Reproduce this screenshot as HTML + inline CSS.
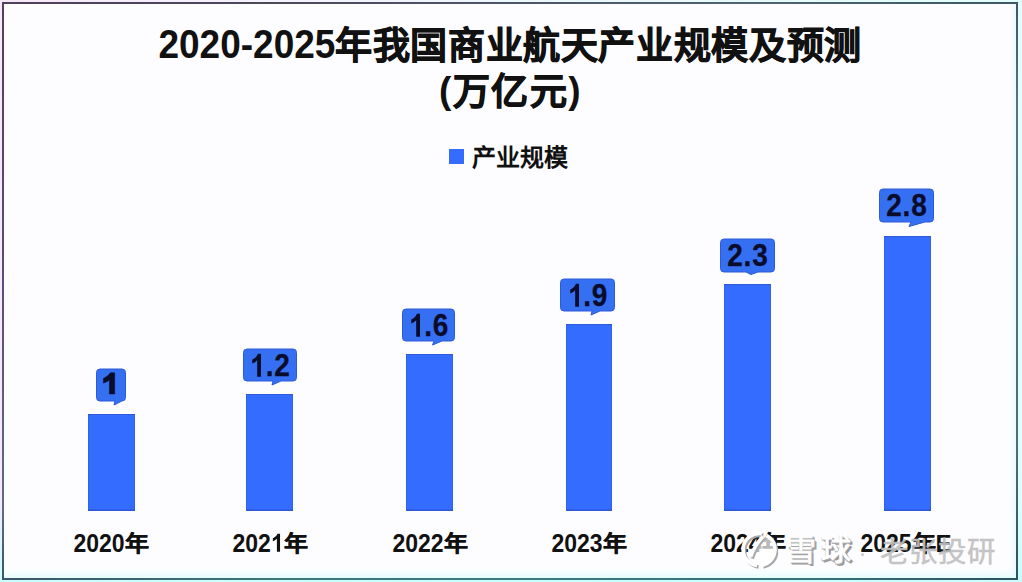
<!DOCTYPE html>
<html lang="zh-CN">
<head>
<meta charset="utf-8">
<style>
html,body{margin:0;padding:0;}
body{width:1022px;height:582px;position:relative;overflow:hidden;
  background:linear-gradient(180deg,rgba(200,255,255,0) 85%,#c8ffff 100%),linear-gradient(90deg,#f6e8fa 0%,#f6f2ff 25%,#e6faff 74%,#e2fffc 100%);
  font-family:"Liberation Sans",sans-serif;}
.frame{position:absolute;left:2px;top:2px;width:1016px;height:578px;box-sizing:border-box;background:#fdfdff;box-shadow:inset 0 -8px 8px -5px rgba(205,255,255,0.9),inset -8px 0 8px -5px rgba(215,248,255,0.8);}
.bt,.bb,.bl,.br{position:absolute;}
.bt{left:2px;top:2px;width:1016px;height:2px;background:linear-gradient(90deg,#50405a 0%,#4c4858 25%,#506470 74%,#3e5866 100%);}
.bb{left:2px;top:578px;width:1016px;height:2px;background:linear-gradient(90deg,#3c5468 0%,#3e7478 25%,#3a7c80 50%,#3a7078 80%,#2e5060 100%);}
.bl{left:2px;top:2px;width:2px;height:578px;background:linear-gradient(180deg,#50405a 0%,#575078 49%,#626a88 87%,#3c5468 100%);}
.br{left:1016px;top:2px;width:2px;height:578px;background:linear-gradient(180deg,#3e5866 0%,#5a7088 18%,#4a6c80 78%,#2e5060 100%);}
.t{position:absolute;white-space:nowrap;font-weight:bold;color:#111;}
.k{-webkit-text-stroke:0.8px #111;}
.bar{position:absolute;background:#336cff;width:47.3px;box-shadow:inset 0 1px 0 rgba(40,70,170,0.45),inset 0 -1.5px 0 rgba(40,70,170,0.5),inset 1px 0 0 rgba(40,70,170,0.25),inset -1px 0 0 rgba(40,70,170,0.25);}
.lab{position:absolute;transform:translateY(0.5px);}
.lab svg{position:absolute;left:0;top:0;overflow:visible;}
.lab span{position:absolute;left:0;right:0;top:0;text-align:center;font-weight:bold;font-size:28px;line-height:33px;color:#0a0c2c;-webkit-text-stroke:0.25px #0a0c2c;letter-spacing:0.8px;text-indent:0.8px;transform:translateY(0.5px) scaleY(1.14);}
.one{display:inline;position:static !important;width:0.556em;height:0.905em;fill:currentColor;overflow:visible;}
.xl{position:absolute;top:529px;width:160px;text-align:center;font-weight:bold;font-size:24px;line-height:30px;color:#111;}
.xl b{display:inline-block;-webkit-text-stroke:0.5px #111;transform:scale(1.0,0.88);font-weight:bold;}
.xl i{display:inline-block;font-style:normal;font-size:23px;transform:translateY(-0.8px) scaleY(1.1);}
.wm{position:absolute;white-space:nowrap;font-size:28px;line-height:32px;}
</style>
</head>
<body>
<div class="frame"></div>
<div class="bt"></div><div class="bb"></div><div class="bl"></div><div class="br"></div>

<div class="t" style="left:1px;width:1018px;text-align:center;top:25px;font-size:37px;line-height:44px;"><span style="display:inline-block;transform:translate(0.5px,-2px) scaleY(1.08);">2020-2025</span><span class="k" style="letter-spacing:0.65px">年我国商业航天产业规模及预测</span></div>
<div class="t" style="left:1.5px;width:1018px;text-align:center;top:70.5px;font-size:37px;line-height:44px;letter-spacing:1.5px;"><span style="display:inline-block;transform:translateY(-2px) scaleY(0.98)">(</span><span class="k">万亿元</span><span style="display:inline-block;transform:translateY(-2px) scaleY(0.98)">)</span></div>
<div style="position:absolute;left:449px;top:149px;width:15px;height:15px;background:#336cff;"></div>
<div class="t" style="left:472px;top:143px;font-size:24px;line-height:30px;"><span class="k" style="-webkit-text-stroke-width:0px">产业规模</span></div>

<div class="bar" style="left:88px;top:414px;height:97px;"></div>
<div class="bar" style="left:246px;top:394px;height:117px;"></div>
<div class="bar" style="left:406px;top:354px;height:157px;"></div>
<div class="bar" style="left:566px;top:324px;height:187px;width:45.5px;"></div>
<div class="bar" style="left:724px;top:284px;height:227px;"></div>
<div class="bar" style="left:884px;top:236px;height:275px;"></div>

<div class="lab" style="left:96px;top:368px;width:30px;height:33px;"><svg width="30" height="39"><path d="M4 0.5H26Q29.5 0.5 29.5 4V29Q29.5 32.5 26 32.5H26L18 36.5L19 32.5H4Q0.5 32.5 0.5 29V4Q0.5 0.5 4 0.5Z" fill="#3670f2" stroke="#2c5ad8" stroke-width="1"/></svg><svg width="30" height="33" style="position:absolute;left:0;top:0"><path d="M18.7 4.3L18.7 25.6L13.4 25.6L13.4 11.4Q10.8 13.6 7.4 14.6L7.4 10Q11.6 8.4 14.4 4.3Z" fill="#0a0c2c" stroke="#0a0c2c" stroke-width="0.5" stroke-linejoin="round"/></svg></div>
<div class="lab" style="left:243px;top:348px;width:54px;height:33px;"><svg width="54" height="39"><path d="M4 0.5H50Q53.5 0.5 53.5 4V29Q53.5 32.5 50 32.5H38L29 36.5L30 32.5H4Q0.5 32.5 0.5 29V4Q0.5 0.5 4 0.5Z" fill="#3670f2" stroke="#2c5ad8" stroke-width="1"/></svg><span style="line-height:33px"><svg class="one" viewBox="0 0 1139 1854"><path d="M806 1854H526V799Q373 942 165 1010V756Q274 720 402 621Q530 521 578 388H806Z"/></svg>.2</span></div>
<div class="lab" style="left:402px;top:308px;width:53px;height:33px;"><svg width="53" height="39"><path d="M4 0.5H49Q52.5 0.5 52.5 4V29Q52.5 32.5 49 32.5H40L30.5 36.5L32 32.5H4Q0.5 32.5 0.5 29V4Q0.5 0.5 4 0.5Z" fill="#3670f2" stroke="#2c5ad8" stroke-width="1"/></svg><span style="line-height:33px"><svg class="one" viewBox="0 0 1139 1854"><path d="M806 1854H526V799Q373 942 165 1010V756Q274 720 402 621Q530 521 578 388H806Z"/></svg>.6</span></div>
<div class="lab" style="left:560px;top:278px;width:55px;height:33px;"><svg width="55" height="39"><path d="M4 0.5H51Q54.5 0.5 54.5 4V29Q54.5 32.5 51 32.5H40L31 36.5L32 32.5H4Q0.5 32.5 0.5 29V4Q0.5 0.5 4 0.5Z" fill="#3670f2" stroke="#2c5ad8" stroke-width="1"/></svg><span style="line-height:33px"><svg class="one" viewBox="0 0 1139 1854"><path d="M806 1854H526V799Q373 942 165 1010V756Q274 720 402 621Q530 521 578 388H806Z"/></svg>.9</span></div>
<div class="lab" style="left:720px;top:238px;width:55px;height:34px;"><svg width="55" height="40"><path d="M4 0.5H51Q54.5 0.5 54.5 4V30Q54.5 33.5 51 33.5H38L31 36.0L26 33.5H4Q0.5 33.5 0.5 30V4Q0.5 0.5 4 0.5Z" fill="#3670f2" stroke="#2c5ad8" stroke-width="1"/></svg><span style="line-height:34px">2.3</span></div>
<div class="lab" style="left:879px;top:188px;width:55px;height:34px;"><svg width="55" height="40"><path d="M4 0.5H51Q54.5 0.5 54.5 4V30Q54.5 33.5 51 33.5H46L30 38.0L32 33.5H4Q0.5 33.5 0.5 30V4Q0.5 0.5 4 0.5Z" fill="#3670f2" stroke="#2c5ad8" stroke-width="1"/></svg><span style="line-height:34px">2.8</span></div>

<div class="xl" style="left:31px;"><i>2020</i><b>年</b></div>
<div class="xl" style="left:190px;"><i>202<svg class="one" viewBox="0 0 1139 1854"><path d="M806 1854H526V799Q373 942 165 1010V756Q274 720 402 621Q530 521 578 388H806Z"/></svg></i><b>年</b></div>
<div class="xl" style="left:350px;"><i>2022</i><b>年</b></div>
<div class="xl" style="left:509px;"><i>2023</i><b>年</b></div>
<div class="xl" style="left:668px;"><i>2024</i><b>年</b></div>
<div class="xl" style="left:826px;"><i>2025</i><b>年</b>E</div>

<svg style="position:absolute;left:736px;top:526px;overflow:visible" width="50" height="46">
  <path d="M30.51 9.37 A16 16 0 0 1 25.78 39.26 Q18 36.5 15 31.0 Q21 17.5 30.51 9.37Z" fill="rgba(255,255,255,0.7)"/>
  <g fill="none" stroke-linecap="butt" stroke-width="3.6">
    <g stroke="#a8a8a8" transform="translate(1.6,1.6)"><path d="M25.78 7.74 A16 16 0 1 0 21.05 39.38"/><path d="M30.51 9.37 A16 16 0 0 1 25.78 39.26"/><path d="M27 10.5 Q19 18.5 14.5 31.0"/></g>
    <g stroke="#ffffff"><path d="M25.78 7.74 A16 16 0 1 0 21.05 39.38"/><path d="M30.51 9.37 A16 16 0 0 1 25.78 39.26"/><path d="M27 10.5 Q19 18.5 14.5 31.0"/></g>
  </g>
</svg>
<div class="wm" style="left:788px;top:535px;font-size:30px;line-height:34px;letter-spacing:4.5px;color:#989898;-webkit-text-stroke:1.2px #989898;">雪球</div>
<div class="wm" style="left:786.5px;top:533.5px;font-size:30px;line-height:34px;letter-spacing:4.5px;color:#aaaaaa;-webkit-text-stroke:1.2px #aaaaaa;">雪球</div>
<div class="wm" style="left:786px;top:533px;font-size:30px;line-height:34px;letter-spacing:4.5px;color:#fff;-webkit-text-stroke:0.9px #fff;">雪球</div>
<div style="position:absolute;left:861px;top:553px;width:3px;height:3px;border-radius:2px;background:#c8c8c8;"></div>
<div class="wm" style="left:879.5px;top:534.5px;font-size:28.5px;line-height:34px;color:rgba(192,192,192,0.92);-webkit-text-stroke:0.5px rgba(192,192,192,0.92);">老张投研</div>
</body>
</html>
